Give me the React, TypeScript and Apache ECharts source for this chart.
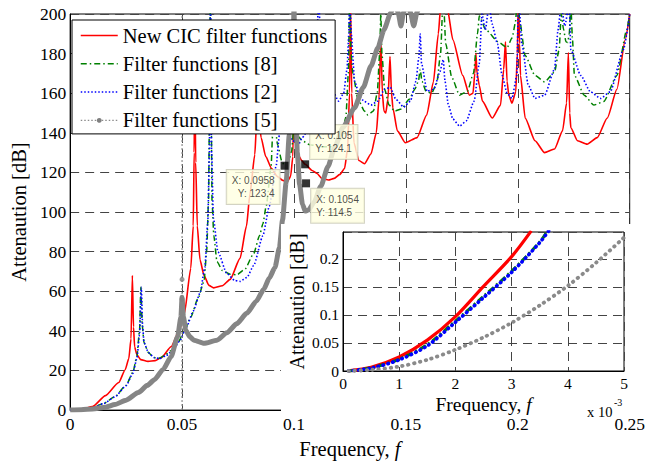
import React, { useEffect, useRef } from 'react';
import * as echarts from 'echarts';

const SERIF = "'Liberation Serif', 'Times New Roman', 'DejaVu Serif', serif";
const SANS = "'Liberation Sans', Arial, sans-serif";

const seriesNames = ['New CIC filter functions', 'Filter functions [8]', 'Filter functions [2]', 'Filter functions [5]'];

// Main plot: [frequency, attenuation dB]
const redCurve: number[][] = [
  [0, 0], [0.005, 0.4], [0.01, 1.8], [0.0158, 7.3], [0.0217, 13.9], [0.0246, 20.4], [0.0262, 26], [0.0272, 36], [0.0278, 68], [0.0283, 42], [0.0288, 32], [0.0298, 28], [0.0315, 25.5], [0.0348, 24.6], [0.038, 25], [0.0407, 26.5], [0.0451, 32], [0.0488, 40.2], [0.051, 48.5], [0.0539, 71.6], [0.055, 93], [0.0554, 130], [0.0557, 175], [0.0561, 125], [0.0568, 93], [0.058, 76], [0.0598, 68], [0.062, 63], [0.0641, 61.7], [0.068, 62.8], [0.0715, 66], [0.0759, 76.6], [0.0788, 93], [0.0803, 109], [0.0825, 129], [0.0833, 145], [0.0838, 180], [0.0843, 148], [0.0853, 137.6], [0.0874, 128], [0.09, 122], [0.0925, 118], [0.095, 116], [0.097, 115.3], [0.0985, 118], [0.0995, 128], [0.1, 165], [0.1006, 138], [0.1018, 129], [0.1035, 126], [0.105, 124.1], [0.1081, 121], [0.1103, 119.5], [0.1125, 117], [0.1154, 116.2], [0.118, 117], [0.1205, 119], [0.1226, 122], [0.124, 132], [0.1248, 160], [0.1253, 205], [0.1258, 160], [0.1268, 135], [0.129, 126], [0.1315, 124.4], [0.1344, 129.3], [0.1368, 140], [0.138, 157], [0.1388, 188], [0.1395, 160], [0.1402, 151], [0.141, 150], [0.142, 157], [0.1429, 178.5], [0.1436, 160], [0.1442, 152.5], [0.1462, 141], [0.1498, 135], [0.155, 137.6], [0.1593, 149], [0.1623, 165.7], [0.1645, 190], [0.1655, 203], [0.167, 230], [0.1685, 203], [0.171, 187], [0.1754, 169], [0.1784, 159], [0.18, 160], [0.1808, 170], [0.1813, 180], [0.1818, 170], [0.1828, 164], [0.1842, 156], [0.1886, 147.5], [0.1923, 154], [0.1937, 172], [0.1945, 186], [0.1952, 166], [0.196, 159], [0.1974, 155], [0.1991, 160.7], [0.1998, 180], [0.2003, 210], [0.2008, 185], [0.2012, 169], [0.2033, 147.5], [0.2077, 136], [0.212, 130], [0.2164, 131.8], [0.22, 141], [0.2218, 155], [0.2226, 180.5], [0.2232, 150], [0.2237, 142.6], [0.2267, 136], [0.231, 134.3], [0.2355, 137.6], [0.24, 147.5], [0.2443, 162], [0.248, 187], [0.25, 200]
];

const greenCurve: number[][] = [
  [0, 0], [0.005, 0.3], [0.01, 1.3], [0.015, 3.4], [0.02, 6.8], [0.025, 12.5], [0.028, 19], [0.0298, 27], [0.031, 40], [0.0316, 62], [0.0322, 43], [0.033, 34], [0.035, 29], [0.0375, 26.5], [0.0392, 26], [0.042, 27.3], [0.045, 30], [0.048, 33.6], [0.051, 40], [0.0539, 47], [0.057, 56], [0.0598, 65], [0.061, 80], [0.0618, 105], [0.0627, 210], [0.0634, 105], [0.0642, 88], [0.0656, 75], [0.068, 70.5], [0.0715, 68.6], [0.0744, 68.3], [0.078, 71], [0.082, 79], [0.0846, 88], [0.0861, 94], [0.0876, 103], [0.0898, 123], [0.0904, 138], [0.0908, 175], [0.0913, 146], [0.0927, 134], [0.0945, 126], [0.0958, 123.4], [0.0975, 125], [0.099, 131], [0.0997, 140], [0.1003, 175], [0.1009, 143], [0.102, 138], [0.1037, 136], [0.107, 134], [0.1125, 133], [0.118, 133], [0.1212, 137], [0.1232, 148], [0.1243, 170], [0.1249, 210], [0.1255, 180], [0.1263, 170], [0.1286, 157], [0.1315, 151], [0.133, 149], [0.1355, 151], [0.1372, 160], [0.1383, 180], [0.1388, 200], [0.1393, 180], [0.1405, 162], [0.1425, 154], [0.145, 151], [0.148, 152], [0.1515, 157], [0.154, 162], [0.1556, 166], [0.1564, 172], [0.1572, 166], [0.159, 161], [0.1615, 160], [0.1638, 165], [0.1655, 180], [0.1667, 210], [0.1678, 185], [0.1705, 168], [0.174, 159], [0.1775, 161], [0.1802, 170], [0.182, 190], [0.1828, 199], [0.1857, 192], [0.1916, 185.6], [0.1952, 183], [0.1975, 188], [0.1989, 195.4], [0.2, 210], [0.2008, 197], [0.2033, 179], [0.2077, 169], [0.212, 165.7], [0.2164, 170.6], [0.2185, 182], [0.2194, 200], [0.2205, 192], [0.2215, 186], [0.2223, 185.6], [0.223, 190], [0.2237, 205], [0.2244, 188], [0.2253, 169], [0.2297, 159], [0.234, 154], [0.2384, 155.8], [0.2443, 169], [0.2487, 192], [0.25, 200]
];

const blueCurve: number[][] = [
  [0, 0], [0.005, 0.3], [0.01, 1.2], [0.015, 3.3], [0.02, 6.7], [0.025, 12.3], [0.028, 18.5], [0.0298, 26], [0.031, 38], [0.0318, 62], [0.0324, 42], [0.033, 34], [0.035, 29], [0.0375, 26.5], [0.04, 26], [0.043, 27.5], [0.046, 30.5], [0.049, 35], [0.052, 42], [0.055, 50], [0.058, 59], [0.0602, 72], [0.0615, 95], [0.0622, 130], [0.0627, 210], [0.0632, 130], [0.064, 97], [0.066, 80], [0.07, 69], [0.0735, 65.5], [0.0759, 65], [0.079, 67], [0.082, 73], [0.0861, 88], [0.089, 103], [0.092, 123], [0.0935, 139], [0.0948, 160], [0.0956, 185], [0.0962, 160], [0.097, 145], [0.098, 139], [0.0993, 136], [0.1022, 134.5], [0.1037, 137.6], [0.1066, 142], [0.108, 152], [0.1095, 170], [0.1105, 195], [0.111, 210], [0.1118, 190], [0.1135, 172], [0.1169, 162], [0.12, 156], [0.1222, 160], [0.1237, 172], [0.1245, 190], [0.1249, 210], [0.1256, 190], [0.1271, 166], [0.1295, 158], [0.1315, 155.8], [0.1344, 154], [0.1374, 156], [0.1405, 162], [0.143, 163], [0.1455, 157], [0.149, 153], [0.152, 156], [0.1545, 166], [0.1558, 178], [0.1564, 190], [0.157, 175], [0.1595, 161], [0.1625, 162], [0.165, 170], [0.1667, 177], [0.1675, 166], [0.169, 154], [0.171, 147], [0.174, 143.4], [0.177, 146], [0.1805, 156], [0.1828, 175], [0.184, 200], [0.1855, 192], [0.1872, 205], [0.1885, 195], [0.1909, 185], [0.193, 169], [0.1952, 160], [0.1974, 157.4], [0.1996, 169], [0.2003, 210], [0.2018, 185], [0.2047, 164], [0.2077, 157.4], [0.212, 159], [0.2164, 172], [0.218, 192], [0.2194, 205], [0.221, 194], [0.223, 205], [0.2237, 182], [0.2281, 169], [0.2325, 160.7], [0.237, 157.4], [0.2413, 160.7], [0.2472, 182], [0.25, 200]
];

const grayCurve: number[][] = [
  [0, 0], [0.005, 0.15], [0.01, 0.6], [0.0158, 1.5], [0.02, 2.8], [0.025, 5], [0.0305, 8.9], [0.0345, 12.5], [0.0378, 15.5], [0.0415, 20.5], [0.0451, 27], [0.048, 37], [0.0495, 47], [0.05, 57], [0.0506, 47], [0.0517, 40.2], [0.0535, 37], [0.0553, 35.3], [0.0598, 33.7], [0.0656, 35.3], [0.07, 39], [0.0744, 43.6], [0.079, 49], [0.0832, 55], [0.0865, 61], [0.089, 66.7], [0.0915, 72], [0.0935, 82], [0.0949, 96], [0.0965, 115], [0.0979, 139], [0.099, 160], [0.0998, 190], [0.1, 205], [0.1003, 185], [0.1008, 152], [0.1015, 130], [0.1025, 114], [0.1038, 104], [0.105, 100.5], [0.1065, 101], [0.109, 105], [0.112, 113], [0.1152, 123], [0.1182, 132.7], [0.122, 143], [0.127, 152.5], [0.131, 163], [0.1344, 173.7], [0.1375, 183], [0.1402, 192], [0.1432, 200.5], [0.145, 206], [0.1465, 201], [0.1478, 194], [0.149, 201], [0.1505, 206], [0.152, 201], [0.1535, 194], [0.155, 201], [0.157, 208], [0.16, 215]
];
const grayJump: number[][] = [[0.05, 0], [0.05, 200]];
const grayDots: number[][] = [[0.05, 56], [0.05, 66]];

// Data tips
const tipX = [0.0958, 0.105, 0.1054];
const tipY = [123.4, 124.1, 114.5];

// Inset: [frequency x 1e-3, attenuation dB]
const insetRed: number[][] = [[0.1, 0.0003], [0.5, 0.0065], [1, 0.025], [1.5, 0.055], [2, 0.097], [2.5, 0.151], [3, 0.204], [3.35, 0.25]];
const insetGreen: number[][] = [[0.1, 0.0002], [0.5, 0.0055], [1, 0.021], [1.5, 0.047], [2, 0.089], [2.5, 0.133], [3, 0.178], [3.5, 0.23], [3.64, 0.25]];
const insetBlue: number[][] = [[0.1, 0.0002], [0.5, 0.005], [1, 0.02], [1.5, 0.045], [2, 0.087], [2.5, 0.131], [3, 0.176], [3.5, 0.229], [3.66, 0.25]];
const insetGray: number[][] = [[0.1, 0], [0.5, 0.002], [1, 0.008], [1.5, 0.02], [2, 0.038], [2.5, 0.06], [3, 0.086], [3.5, 0.117], [4, 0.152], [4.5, 0.193], [5, 0.238]];

const RED = '#ff0000';
const GREEN = '#008000';
const BLUE = '#0000ff';
const GRAY = '#858585';

const fmt = (v: number) => String(+v.toFixed(4));
const fmtInsetY = (v: number) => (Math.abs(v / 0.05 - Math.round(v / 0.05)) < 1e-6 ? String(+v.toFixed(2)) : '');

const splitLine = { show: true, lineStyle: { color: '#444', type: [9, 6], width: 1 } };
const nameStyle = (size: number) => ({
  color: '#000', fontSize: size, fontFamily: SERIF,
  rich: { i: { fontStyle: 'italic', fontSize: size, fontFamily: SERIF, color: '#000' } },
});

const tipLabels = [
  { position: [-1, 8.3], align: 'right', verticalAlign: 'top' },
  { position: [9, -1.3], align: 'left', verticalAlign: 'bottom' },
  { position: [9.1, 9.3], align: 'left', verticalAlign: 'top' },
];

const SMOOTH = 0.2;

function buildOption() {
  return {
    animation: false,
    backgroundColor: '#fff',
    textStyle: { fontFamily: SERIF },
    grid: [
      { left: 64, top: 14, width: 569, height: 404, show: true, borderColor: '#000', borderWidth: 1, backgroundColor: 'transparent' },
      { left: 343, top: 232, width: 281, height: 139, show: true, borderColor: '#000', borderWidth: 1, backgroundColor: '#fff', z: 60 },
    ],
    xAxis: [
      {
        type: 'value', gridIndex: 0, min: 0, max: 0.25, interval: 0.05,
        axisLine: { show: true, lineStyle: { color: '#000' } }, axisTick: { show: false },
        axisLabel: { color: '#000', fontSize: 17.5, margin: 5, fontFamily: SERIF, formatter: fmt },
        splitLine,
        name: 'Frequency, {i|f}', nameLocation: 'middle', nameGap: 22, nameTextStyle: nameStyle(20.5),
      },
      {
        type: 'value', gridIndex: 1, min: 0, max: 5, interval: 1, z: 61,
        axisLine: { show: true, lineStyle: { color: '#000' } }, axisTick: { show: false },
        axisLabel: { color: '#000', fontSize: 15.5, margin: 4, fontFamily: SERIF, formatter: fmt },
        splitLine,
        name: 'Frequency, {i|f}', nameLocation: 'middle', nameGap: 23, nameTextStyle: nameStyle(19.5),
      },
    ],
    yAxis: [
      {
        type: 'value', gridIndex: 0, min: 0, max: 200, interval: 20,
        axisLine: { show: true, lineStyle: { color: '#000' } }, axisTick: { show: false },
        axisLabel: { color: '#000', fontSize: 17.5, margin: 4, fontFamily: SERIF },
        splitLine,
        name: 'Attenaution [dB]', nameLocation: 'middle', nameRotate: 90, nameGap: 36, nameTextStyle: nameStyle(20.5),
      },
      {
        type: 'value', gridIndex: 1, min: 0, max: 0.248, interval: 0.05, z: 61,
        axisLine: { show: true, lineStyle: { color: '#000' } }, axisTick: { show: false },
        axisLabel: { color: '#000', fontSize: 15.5, margin: 4, fontFamily: SERIF, formatter: fmtInsetY },
        splitLine,
        name: 'Attenaution [dB]', nameLocation: 'middle', nameRotate: 90, nameGap: 36, nameTextStyle: nameStyle(20),
      },
    ],
    legend: {
      orient: 'vertical', left: 72, top: 20, padding: [5, 8, 3, 8],
      itemWidth: 37, itemHeight: 6, itemGap: 7.3,
      backgroundColor: '#fff', borderColor: '#000', borderWidth: 1,
      selectedMode: false, z: 80,
      textStyle: { fontFamily: SERIF, fontSize: 20.5, color: '#000', lineHeight: 20 },
      data: [
        { name: seriesNames[0], itemStyle: { opacity: 0 }, lineStyle: { color: RED, width: 1.5, type: 'solid' } },
        { name: seriesNames[1], itemStyle: { opacity: 0 }, lineStyle: { color: GREEN, width: 1.5, type: [6, 3, 1.5, 3] } },
        { name: seriesNames[2], itemStyle: { opacity: 0 }, lineStyle: { color: BLUE, width: 1.5, type: [1.5, 2] } },
        { name: seriesNames[3], itemStyle: { color: '#808080' }, lineStyle: { color: '#8c8c8c', width: 1.2, type: [1.5, 2] } },
      ],
    },
    graphic: [
      { type: 'rect', shape: { x: 281, y: 224, width: 351, height: 193 }, style: { fill: '#fff' }, z: 55, silent: true },
      { type: 'text', x: 587, y: 412, z: 65, style: { text: 'x 10', fontSize: 14.5, fontFamily: SERIF, fill: '#000', align: 'left', verticalAlign: 'middle' } },
      { type: 'text', x: 614, y: 402, z: 65, style: { text: '-3', fontSize: 10, fontFamily: SERIF, fill: '#000', align: 'left', verticalAlign: 'middle' } },
    ],
    series: [
      { type: 'line', name: seriesNames[0], xAxisIndex: 0, yAxisIndex: 0, data: redCurve, smooth: SMOOTH, smoothMonotone: 'x', symbol: 'none', lineStyle: { color: RED, width: 1.6 }, itemStyle: { color: RED }, z: 2 },
      { type: 'line', name: seriesNames[1], xAxisIndex: 0, yAxisIndex: 0, data: greenCurve, smooth: SMOOTH, smoothMonotone: 'x', symbol: 'none', lineStyle: { color: GREEN, width: 1.5, type: [6, 3, 1.5, 3] }, itemStyle: { color: GREEN }, z: 2 },
      { type: 'line', name: seriesNames[2], xAxisIndex: 0, yAxisIndex: 0, data: blueCurve, smooth: SMOOTH, smoothMonotone: 'x', symbol: 'none', lineStyle: { color: BLUE, width: 1.6, type: [1.5, 2] }, itemStyle: { color: BLUE }, z: 2 },
      { type: 'line', name: seriesNames[3], xAxisIndex: 0, yAxisIndex: 0, data: grayJump, symbol: 'circle', symbolSize: 5, showSymbol: false, lineStyle: { color: '#8c8c8c', width: 1.2, type: [2, 2] }, itemStyle: { color: '#808080' }, z: 3 },
      { type: 'line', name: seriesNames[3], xAxisIndex: 0, yAxisIndex: 0, data: grayCurve, smooth: SMOOTH, smoothMonotone: 'x', symbol: 'none', lineStyle: { color: GRAY, width: 5 }, itemStyle: { color: GRAY }, z: 3 },
      { type: 'scatter', name: 'gray-marks', xAxisIndex: 0, yAxisIndex: 0, data: grayDots, symbol: 'circle', symbolSize: 5, itemStyle: { color: '#808080' }, z: 3 },
      { type: 'line', name: 'inset-red', xAxisIndex: 1, yAxisIndex: 1, data: insetRed, smooth: 0.3, symbol: 'none', lineStyle: { color: RED, width: 3.2 }, z: 62 },
      { type: 'line', name: 'inset-green', xAxisIndex: 1, yAxisIndex: 1, data: insetGreen, smooth: 0.3, symbol: 'none', lineStyle: { color: GREEN, width: 3, type: [7, 3, 2, 3] }, z: 62 },
      { type: 'line', name: 'inset-blue', xAxisIndex: 1, yAxisIndex: 1, data: insetBlue, smooth: 0.3, symbol: 'none', lineStyle: { color: BLUE, width: 3.6, type: [0.5, 4.5], cap: 'round' }, z: 62 },
      { type: 'line', name: 'inset-gray', xAxisIndex: 1, yAxisIndex: 1, data: insetGray, smooth: 0.3, symbol: 'none', lineStyle: { color: '#8a8a8a', width: 3.8, type: [0.5, 5.5], cap: 'round' }, z: 62 },
      {
        type: 'scatter', name: 'datatips', xAxisIndex: 0, yAxisIndex: 0, symbol: 'rect', symbolSize: 8,
        itemStyle: { color: '#000' }, z: 70,
        label: {
          show: true, fontFamily: SANS, fontSize: 10, lineHeight: 13, color: '#222',
          backgroundColor: '#ffffe1', borderColor: '#c8c8b4', borderWidth: 1, padding: [4, 5, 4, 5],
          formatter: (p: any) => `X: ${p.value[0]}\nY: ${p.value[1]}`,
        },
        data: tipX.map((x, i) => ({ value: [x, tipY[i]], label: tipLabels[i] })),
      },
    ],
  };
}

export default function App() {
  const ref = useRef<HTMLDivElement>(null);
  useEffect(() => {
    const chart = echarts.init(ref.current as HTMLDivElement, null, { renderer: 'svg' });
    chart.setOption(buildOption() as any);
    return () => chart.dispose();
  }, []);
  return <div ref={ref} style={{ position: 'absolute', left: 0, top: 0, width: 648, height: 464, background: '#fff' }} />;
}
